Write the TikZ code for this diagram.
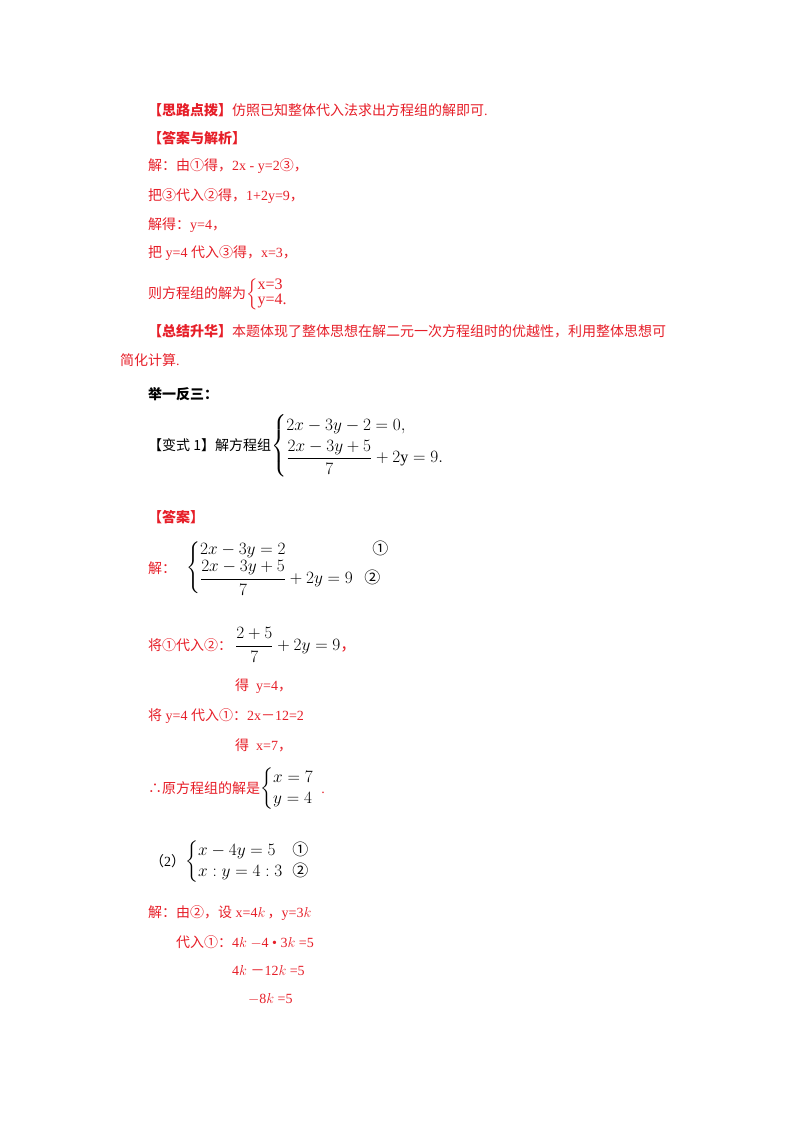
\documentclass[tikz,border=0pt]{standalone}
\usepackage{amsmath}
\usepackage{fontspec}
\setmainfont{Liberation Serif}
\newfontfamily\cjk{Noto Sans CJK SC}
\newcommand{\zh}[1]{{\cjk #1}}
\definecolor{ansred}{RGB}{230,30,40}
\begin{document}
\begin{tikzpicture}[x=1pt,y=-1pt]
\tikzstyle{line}=[anchor=west, inner sep=0pt, font=\fontsize{14}{17}\selectfont]
\tikzstyle{red}=[line, text=ansred]
\tikzstyle{blk}=[line, text=black]
\tikzstyle{big}=[font=\fontsize{16}{19}\selectfont]
\useasboundingbox (0,0) rectangle (800,1132);

\node[red] at (148,110) (hint) {\zh{\textbf{【思路点拨】}仿照已知整体代入法求出方程组的解即可}.};
\node[red] at (148,138) (ans) {\zh{\textbf{【答案与解析】}}};
\node[red] at (148,166) (s1) {\zh{解：由①得，}2x - y=2\zh{③，}};
\node[red] at (148,196) (s2) {\zh{把③代入②得，}1+2y=9\zh{，}};
\node[red] at (148,225) (s3) {\zh{解得：}y=4\zh{，}};
\node[red] at (148,253) (s4) {\zh{把} y=4 \zh{代入③得，}x=3\zh{，}};
\node[red] at (148,294) (s5) {\zh{则方程组的解为}{\fontsize{16}{17}\selectfont$\left\{\begin{array}{@{}l}\text{x=3}\\[-2pt]\text{y=4.}\end{array}\right.$}};
\node[red] at (148,331) (sum) {\zh{\textbf{【总结升华】}本题体现了整体思想在解二元一次方程组时的优越性，利用整体思想可}};
\node[red] at (120,360) (sum2) {\zh{简化计算}.};
\node[blk] at (148,394) (jyfs) {\zh{\textbf{举一反三：}}};
\node[blk] at (148,446) (bs1) {\zh{【变式 1】解方程组}{\fontsize{16}{19}\selectfont$\left\{\begin{array}{@{}l}2x-3y-2=0,\\[4pt]\dfrac{2x-3y+5}{7}+2\mathrm{y}=9.\end{array}\right.$}};
\node[red] at (148,517) (ans2) {\zh{\textbf{【答案】}}};
\node[red] at (148,568) (j0) {\zh{解：}};
\node[blk, big] at (186,568) (sys1) {$\left\{\begin{array}{@{}ll}2x-3y=2 & \hspace{0.6em}\text{\zh{①}}\\[1pt]\dfrac{2x-3y+5}{7}+2y=9 & \hspace{0.1em}\text{\zh{②}}\end{array}\right.$};
\node[red] at (148,645) (j1) {\zh{将①代入②：}};
\node[blk, big] at (235,645) (eq1) {$\dfrac{2+5}{7}+2y=9$\textcolor{ansred}{\zh{，}}};
\node[red] at (235,686) (j2) {\zh{得}\ \ y=4\zh{，}};
\node[red] at (148,716) (j3) {\zh{将} y=4 \zh{代入①：}2x\zh{－}12=2};
\node[red] at (235,745) (j4) {\zh{得}\ \ x=7\zh{，}};
\node[red] at (148,789) (j5) {\zh{∴原方程组的解是}\textcolor{black}{\fontsize{16}{19}\selectfont$\left\{\begin{array}{@{}l}x=7\\[2pt] y=4\end{array}\right.$}\,.};
\node[blk] at (150,862) (q2) {\zh{（}2\zh{）}{\fontsize{16}{19}\selectfont$\left\{\begin{array}{@{}ll}x-4y=5 & \text{\zh{①}}\\[2pt] x:y=4:3 & \text{\zh{②}}\end{array}\right.$}};
\node[red] at (148,913) (k1) {\zh{解：由②，设} x=4$k$\,\zh{，}y=3$k$};
\node[red] at (176,942) (k2) {\zh{代入①：}4$k$ $-$4 • 3$k$ =5};
\node[red] at (232,971) (k3) {4$k$ \zh{－}12$k$ =5};
\node[red] at (248,999) (k4) {$-$8$k$ =5};
\end{tikzpicture}
\end{document}
